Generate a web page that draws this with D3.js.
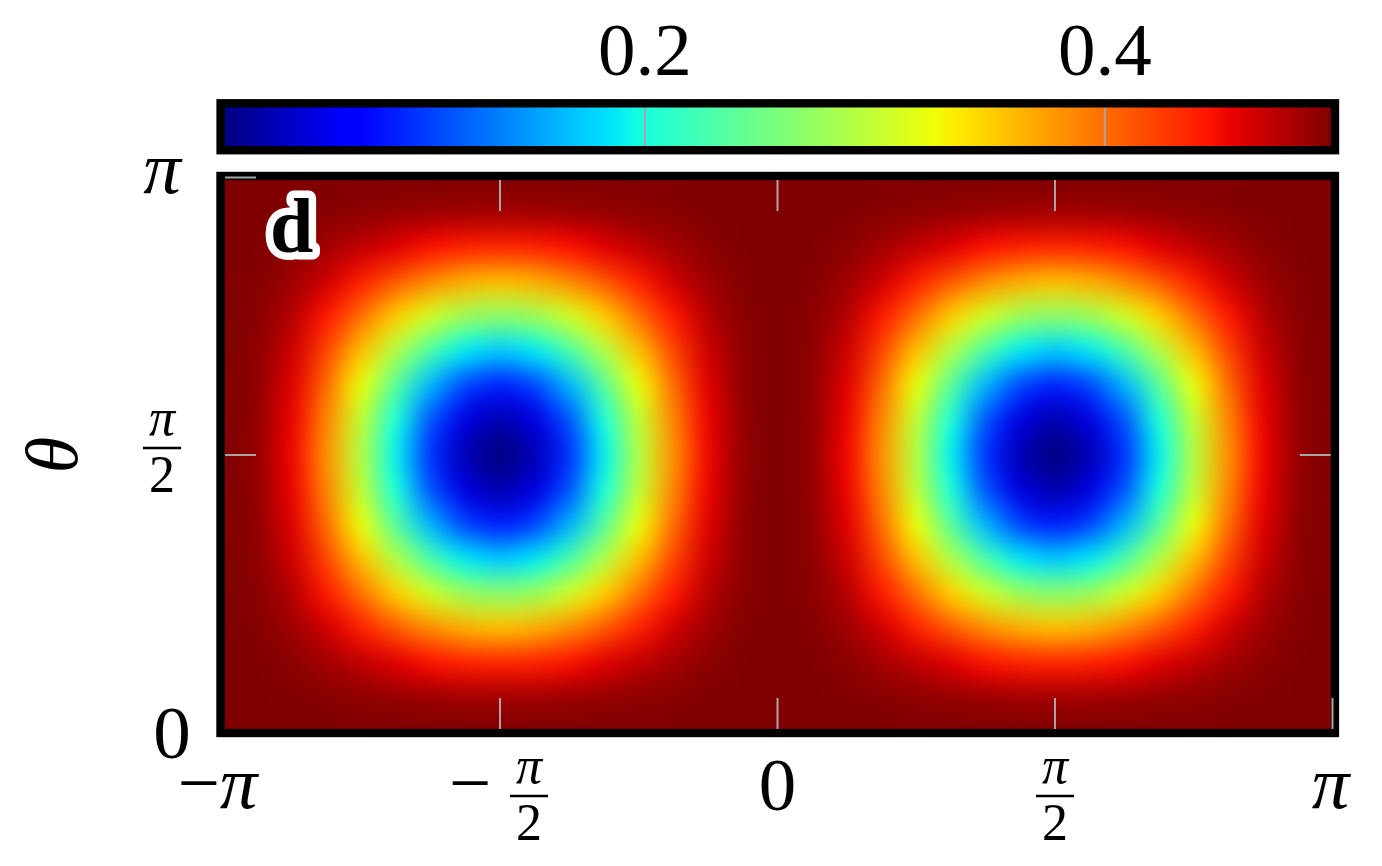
<!DOCTYPE html>
<html>
<head>
<meta charset="utf-8">
<script src="https://cdn.jsdelivr.net/npm/d3@7"></script>
<style>
  html, body { margin: 0; padding: 0; background: #fff; }
  svg { display: block; }
  text { font-family: "Liberation Serif", "DejaVu Serif", serif; }
</style>
</head>
<body>
<svg id="chart" width="1382" height="866"></svg>
<script>
// ---------------- data ----------------
// grid nodes: phi = k·π/16 (k = -16..16), theta = m·π/16 (m = 0..16)
const phiSteps = [-16,-15,-14,-13,-12,-11,-10,-9,-8,-7,-6,-5,-4,-3,-2,-1,0,1,2,3,4,5,6,7,8,9,10,11,12,13,14,15,16];
const thetaSteps = [0,1,2,3,4,5,6,7,8,9,10,11,12,13,14,15,16];

// field values, one row per theta node (row 0: theta = 0 ... row 16: theta = π)
const fieldRows = [
  [.5,.5,.5,.5,.5,.5,.5,.5,.5,.5,.5,.5,.5,.5,.5,.5,.5,.5,.5,.5,.5,.5,.5,.5,.5,.5,.5,.5,.5,.5,.5,.5,.5],
  [.5,.5,.498,.496,.493,.490,.487,.485,.484,.485,.487,.490,.493,.496,.498,.5,.5,.5,.498,.496,.493,.490,.487,.485,.484,.485,.487,.490,.493,.496,.498,.5,.5],
  [.5,.499,.494,.484,.472,.459,.447,.439,.436,.439,.447,.459,.472,.484,.494,.499,.5,.499,.494,.484,.472,.459,.447,.439,.436,.439,.447,.459,.472,.484,.494,.499,.5],
  [.5,.497,.486,.466,.439,.410,.384,.366,.359,.366,.384,.410,.439,.466,.486,.497,.5,.497,.486,.466,.439,.410,.384,.366,.359,.366,.384,.410,.439,.466,.486,.497,.5],
  [.5,.495,.477,.443,.398,.350,.307,.277,.267,.277,.307,.350,.398,.443,.477,.495,.5,.495,.477,.443,.398,.350,.307,.277,.267,.277,.307,.350,.398,.443,.477,.495,.5],
  [.5,.493,.467,.420,.357,.289,.229,.187,.172,.187,.229,.289,.357,.420,.467,.493,.5,.493,.467,.420,.357,.289,.229,.187,.172,.187,.229,.289,.357,.420,.467,.493,.5],
  [.5,.492,.459,.400,.322,.237,.162,.110,.091,.110,.162,.237,.322,.400,.459,.492,.5,.492,.459,.400,.322,.237,.162,.110,.091,.110,.162,.237,.322,.400,.459,.492,.5],
  [.5,.491,.454,.387,.298,.202,.117,.057,.036,.057,.117,.202,.298,.387,.454,.491,.5,.491,.454,.387,.298,.202,.117,.057,.036,.057,.117,.202,.298,.387,.454,.491,.5],
  [.5,.490,.452,.382,.290,.190,.101,.039,.017,.039,.101,.190,.290,.382,.452,.490,.5,.490,.452,.382,.290,.190,.101,.039,.017,.039,.101,.190,.290,.382,.452,.490,.5],
  [.5,.491,.454,.387,.298,.202,.117,.057,.036,.057,.117,.202,.298,.387,.454,.491,.5,.491,.454,.387,.298,.202,.117,.057,.036,.057,.117,.202,.298,.387,.454,.491,.5],
  [.5,.492,.459,.400,.322,.237,.162,.110,.091,.110,.162,.237,.322,.400,.459,.492,.5,.492,.459,.400,.322,.237,.162,.110,.091,.110,.162,.237,.322,.400,.459,.492,.5],
  [.5,.493,.467,.420,.357,.289,.229,.187,.172,.187,.229,.289,.357,.420,.467,.493,.5,.493,.467,.420,.357,.289,.229,.187,.172,.187,.229,.289,.357,.420,.467,.493,.5],
  [.5,.495,.477,.443,.398,.350,.307,.277,.267,.277,.307,.350,.398,.443,.477,.495,.5,.495,.477,.443,.398,.350,.307,.277,.267,.277,.307,.350,.398,.443,.477,.495,.5],
  [.5,.497,.486,.466,.439,.410,.384,.366,.359,.366,.384,.410,.439,.466,.486,.497,.5,.497,.486,.466,.439,.410,.384,.366,.359,.366,.384,.410,.439,.466,.486,.497,.5],
  [.5,.499,.494,.484,.472,.459,.447,.439,.436,.439,.447,.459,.472,.484,.494,.499,.5,.499,.494,.484,.472,.459,.447,.439,.436,.439,.447,.459,.472,.484,.494,.499,.5],
  [.5,.5,.498,.496,.493,.490,.487,.485,.484,.485,.487,.490,.493,.496,.498,.5,.5,.5,.498,.496,.493,.490,.487,.485,.484,.485,.487,.490,.493,.496,.498,.5,.5],
  [.5,.5,.5,.5,.5,.5,.5,.5,.5,.5,.5,.5,.5,.5,.5,.5,.5,.5,.5,.5,.5,.5,.5,.5,.5,.5,.5,.5,.5,.5,.5,.5,.5]
];

const colorDomain = [0.0163, 0.499];
const colorbarTicks = [0.2, 0.4];
const colorbarLabels = ["0.2", "0.4"];

const xTickValues = [-Math.PI, -Math.PI / 2, 0, Math.PI / 2, Math.PI];
const xTickLabels = ["−π", "−π/2", "0", "π/2", "π"];
const yTickValues = [0, Math.PI / 2, Math.PI];
const yTickLabels = ["0", "π/2", "π"];

const axisLabelY = "θ";
const panelLabel = "d";

// jet colormap stops
const jetStops = [0, 0.11, 0.125, 0.34, 0.35, 0.375, 0.64, 0.65, 0.66, 0.89, 0.91, 1];
const jetColors = ["#000080", "#0000ff", "#0000ff", "#00dbff", "#00e5f7", "#15ffe2",
                   "#eeff08", "#f7f500", "#ffec00", "#ff1300", "#e80000", "#800000"];

// ---------------- layout ----------------
const svg = d3.select("#chart");
svg.append("rect").attr("width", 1382).attr("height", 866).attr("fill", "#fff");

const X0 = 222.5, X1 = 1332.5, Y0 = 177.5, Y1 = 732.5;
const x = d3.scaleLinear().domain([-Math.PI, Math.PI]).range([X0, X1]);
const y = d3.scaleLinear().domain([0, Math.PI]).range([Y1, Y0]);
const color = d3.scaleLinear()
  .domain(jetStops.map(s => colorDomain[0] + s * (colorDomain[1] - colorDomain[0])))
  .range(jetColors)
  .interpolate(d3.interpolateRgb)
  .clamp(true);

const defs = svg.append("defs");
defs.append("clipPath").attr("id", "plotClip")
  .append("rect").attr("x", 220.5).attr("y", 176).attr("width", 1334.9 - 220.5).attr("height", 733 - 176);

// ---------------- heatmap ----------------
const nx = phiSteps.length, ny = thetaSteps.length;
const small = document.createElement("canvas");
small.width = nx; small.height = ny;
const sctx = small.getContext("2d");
fieldRows.forEach((row, j) => {
  row.forEach((v, i) => {
    sctx.fillStyle = d3.rgb(color(v)).formatHex();
    sctx.fillRect(i, ny - 1 - j, 1, 1);
  });
});
const stepPhi = Math.PI / 16, stepTheta = Math.PI / 16;
const cw = x(stepPhi) - x(0);
const ch = y(0) - y(stepTheta);
const imgX = x(phiSteps[0] * stepPhi) - cw / 2;
const imgY = y(thetaSteps[ny - 1] * stepTheta) - ch / 2;
const imgW = x(phiSteps[nx - 1] * stepPhi) - x(phiSteps[0] * stepPhi) + cw;
const imgH = y(thetaSteps[0] * stepTheta) - y(thetaSteps[ny - 1] * stepTheta) + ch;

const big = document.createElement("canvas");
big.width = Math.round(imgW); big.height = Math.round(imgH);
const bctx = big.getContext("2d");
bctx.imageSmoothingEnabled = true;
bctx.imageSmoothingQuality = "high";
bctx.drawImage(small, 0, 0, big.width, big.height);

svg.append("g").attr("clip-path", "url(#plotClip)")
  .append("image")
  .attr("href", big.toDataURL())
  .attr("x", imgX).attr("y", imgY)
  .attr("width", imgW).attr("height", imgH)
  .attr("preserveAspectRatio", "none");

// frame
svg.append("rect")
  .attr("x", 220.5).attr("y", 176)
  .attr("width", 1334.9 - 220.5).attr("height", 733 - 176)
  .attr("fill", "none").attr("stroke", "#000").attr("stroke-width", 8.4);

// ticks (grey, inside)
const tickColor = "#a6a6a6";
const tl = 31;
const gt = svg.append("g").attr("stroke", tickColor).attr("stroke-width", 2);
xTickValues.forEach(v => {
  if (v > -Math.PI + 1e-6)
    gt.append("line").attr("x1", x(v)).attr("x2", x(v)).attr("y1", 729).attr("y2", 729 - tl);
  if (Math.abs(v) < Math.PI - 1e-6)
    gt.append("line").attr("x1", x(v)).attr("x2", x(v)).attr("y1", 180).attr("y2", 180 + tl);
});
yTickValues.forEach(v => {
  if (v === 0) return;
  gt.append("line").attr("x1", 225).attr("x2", 225 + tl).attr("y1", y(v)).attr("y2", y(v));
  if (v < Math.PI - 1e-6)
    gt.append("line").attr("x1", 1330.7).attr("x2", 1330.7 - tl).attr("y1", y(v)).attr("y2", y(v));
});

// ---------------- colorbar ----------------
const cb = d3.scaleLinear().domain(colorDomain).range([X0, X1]);
const grad = defs.append("linearGradient").attr("id", "jetGrad")
  .attr("x1", "0%").attr("x2", "100%").attr("y1", "0%").attr("y2", "0%");
jetStops.forEach((s, i) => grad.append("stop").attr("offset", (s * 100) + "%").attr("stop-color", jetColors[i]));
svg.append("rect").attr("x", X0).attr("y", 103).attr("width", X1 - X0).attr("height", 48)
  .attr("fill", "url(#jetGrad)");
colorbarTicks.forEach(v => {
  svg.append("line").attr("x1", cb(v)).attr("x2", cb(v)).attr("y1", 107).attr("y2", 147)
    .attr("stroke", tickColor).attr("stroke-width", 2);
});
svg.append("rect")
  .attr("x", 220.6).attr("y", 103.3)
  .attr("width", 1335 - 220.6).attr("height", 150.2 - 103.3)
  .attr("fill", "none").attr("stroke", "#000").attr("stroke-width", 8.4);
colorbarTicks.forEach((v, i) => {
  svg.append("text").attr("x", cb(v)).attr("y", 75)
    .attr("text-anchor", "middle").attr("font-size", 75).text(colorbarLabels[i]);
});

// ---------------- tick labels ----------------
const FS = 75, FFS = 52;
function mathText(g, str, cx, baseline, size) {
  const t = g.append("text").attr("x", cx).attr("y", baseline)
    .attr("text-anchor", "middle").attr("font-size", size);
  for (const ch of str) {
    const sp = t.append("tspan").text(ch);
    if (ch === "π") sp.attr("font-style", "italic");
  }
  return t;
}
function fraction(g, num, den, cx, barY) {
  mathText(g, num, cx, barY - 13, FFS);
  g.append("line").attr("x1", cx - 19).attr("x2", cx + 19).attr("y1", barY).attr("y2", barY)
    .attr("stroke", "#000").attr("stroke-width", 2.6);
  mathText(g, den, cx, barY + 44, FFS);
}

const gx = svg.append("g");
xTickValues.forEach((v, i) => {
  const lab = xTickLabels[i];
  const px = x(v);
  if (lab.includes("/")) {
    const neg = lab.startsWith("−");
    const parts = lab.replace("−", "").split("/");
    if (neg) {
      gx.append("text").attr("x", px - 30).attr("y", 808).attr("text-anchor", "middle")
        .attr("font-size", FS).text("−");
      fraction(gx, parts[0], parts[1], px + 29, 796);
    } else {
      fraction(gx, parts[0], parts[1], px, 796);
    }
  } else if (lab.startsWith("−")) {
    mathText(gx, lab, px - 5, 808, FS);
  } else {
    mathText(gx, lab, px - (lab === "π" ? 2 : 0), lab === "0" ? 810 : 808, FS);
  }
});

const gy = svg.append("g");
yTickValues.forEach((v, i) => {
  const lab = yTickLabels[i];
  const py = y(v);
  if (lab.includes("/")) {
    const parts = lab.split("/");
    fraction(gy, parts[0], parts[1], 162, py - 7);
  } else if (lab === "0") {
    mathText(gy, lab, 172, py + 25, FS);
  } else {
    mathText(gy, lab, 162, py + 15, FS);
  }
});

// axis label theta
svg.append("text")
  .attr("transform", `translate(51,${y(Math.PI / 2)}) rotate(-90)`)
  .attr("text-anchor", "middle").attr("dominant-baseline", "central")
  .attr("font-size", FS).attr("font-style", "italic").text(axisLabelY);

// panel label
svg.append("text").attr("x", 270).attr("y", 252)
  .attr("font-size", 78).attr("font-weight", "bold")
  .attr("fill", "#000").attr("stroke", "#fff").attr("stroke-width", 15)
  .attr("stroke-linejoin", "round").attr("paint-order", "stroke")
  .text(panelLabel);
</script>
</body>
</html>
